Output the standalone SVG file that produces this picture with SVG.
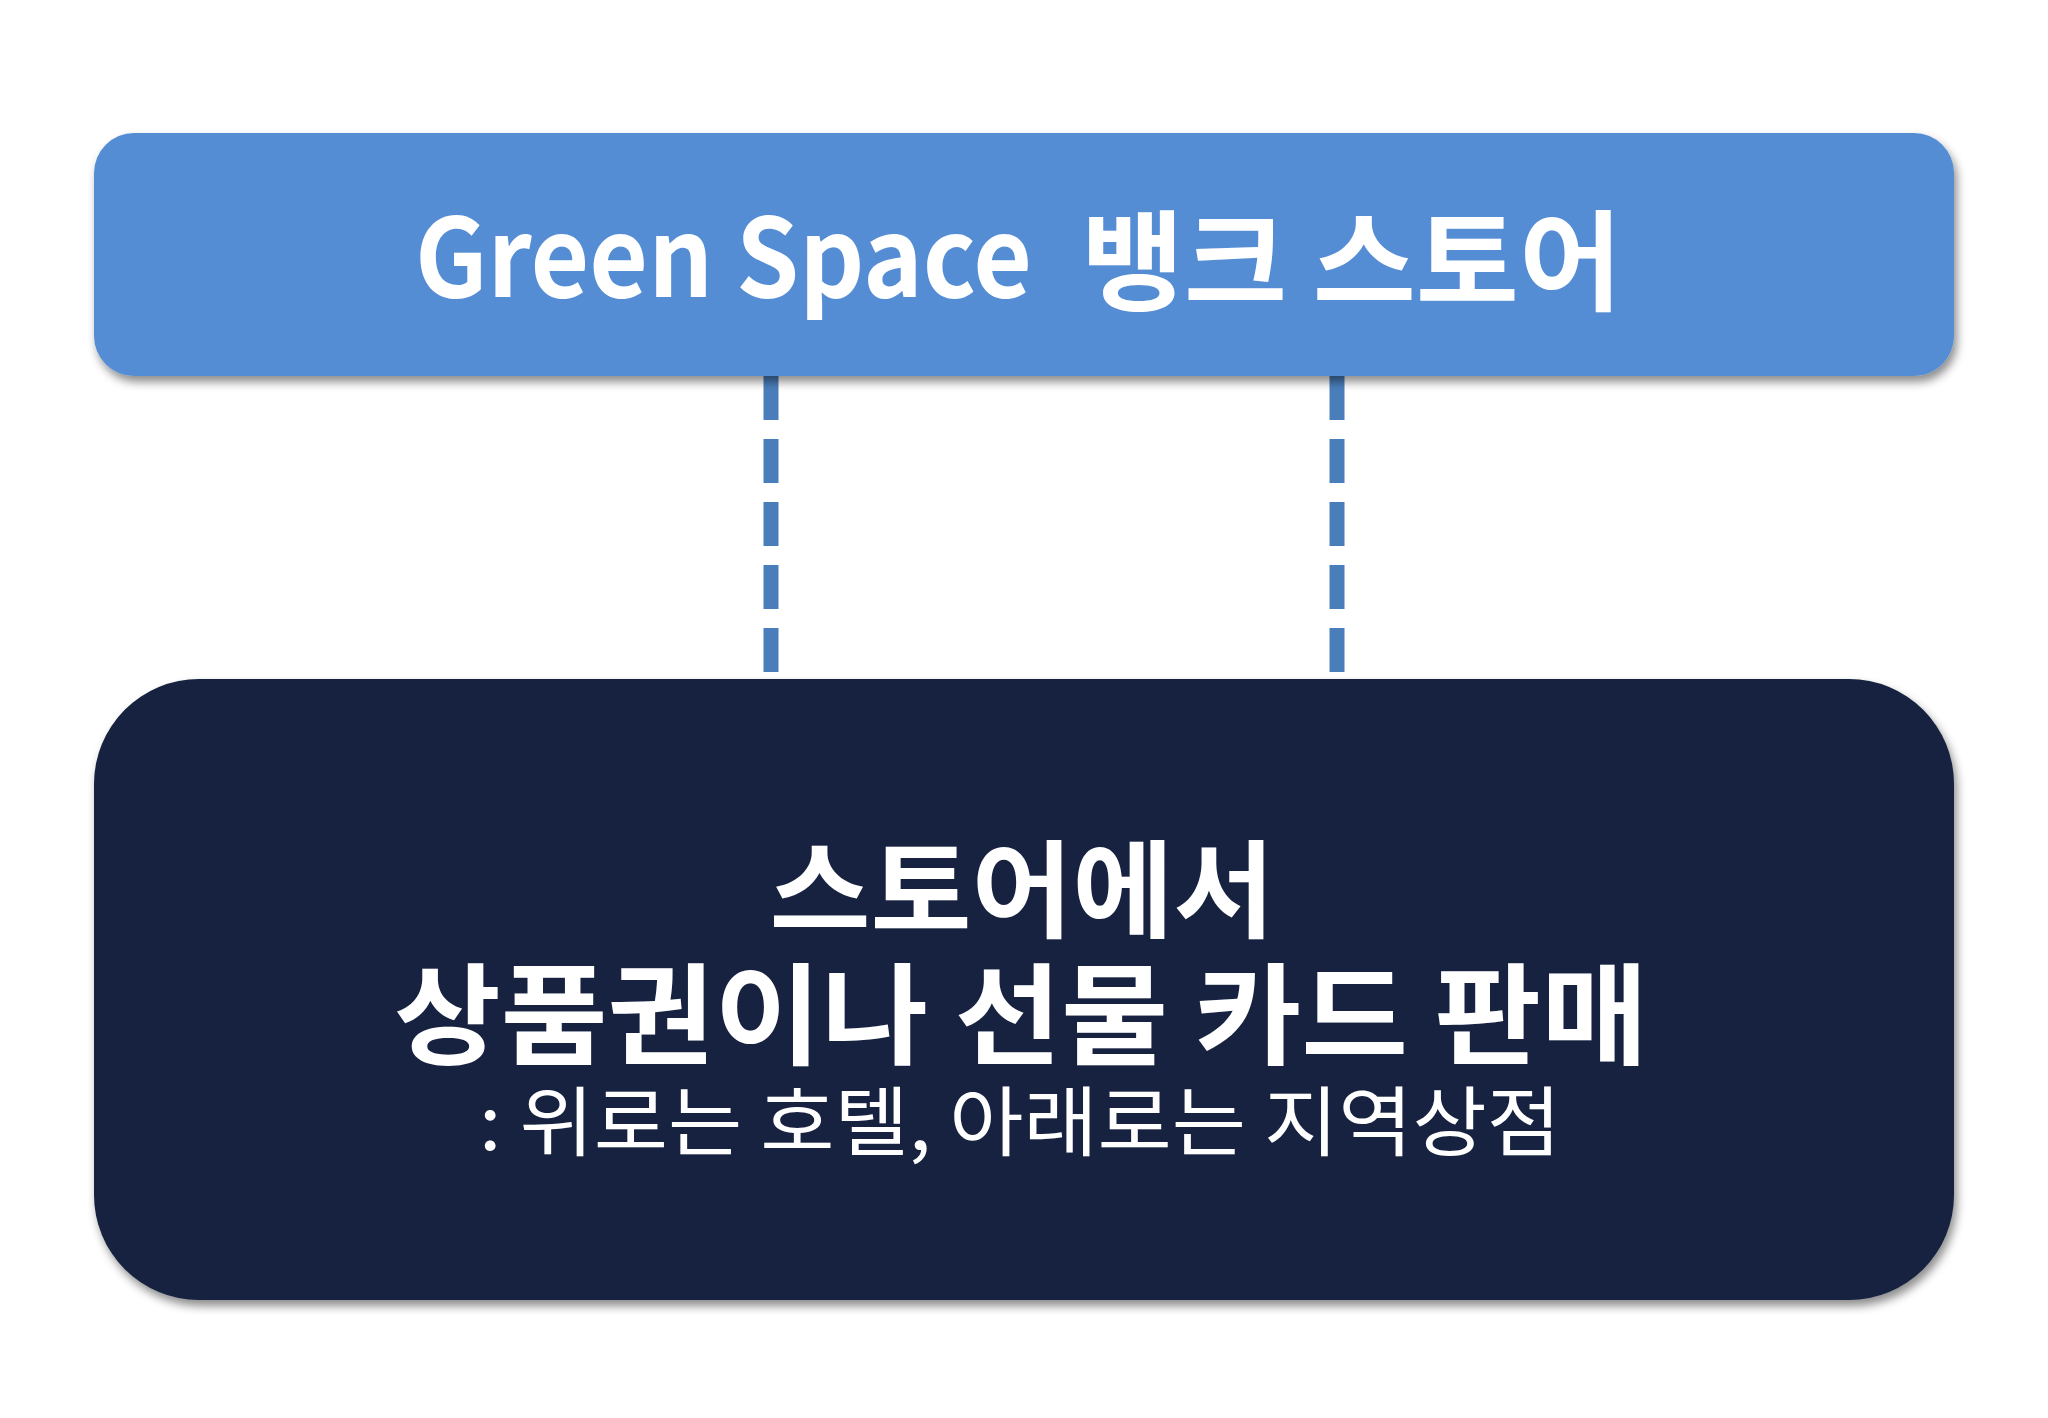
<svg xmlns="http://www.w3.org/2000/svg" width="2048" height="1418" viewBox="0 0 2048 1418">
<defs>
<filter id="shadow" x="-5%" y="-10%" width="110%" height="130%">
<feDropShadow dx="3" dy="6" stdDeviation="5" flood-color="#000" flood-opacity="0.45"/>
</filter>
<style>
.t { font-family: "Noto Sans CJK KR", "Noto Sans", sans-serif; fill: #ffffff; text-anchor: middle; }
.s { text-anchor: start; }
.conn { stroke: #4a7ebb; stroke-width: 15; stroke-dasharray: 44 19; fill: none; }
</style>
</defs>
<rect width="2048" height="1418" fill="#ffffff"/>
<g id="connectors">
<line class="conn" x1="771" y1="376" x2="771" y2="679"/>
<line class="conn" x1="1337" y1="376" x2="1337" y2="679"/>
</g>
<g id="top-node">
<rect x="94" y="133" width="1860" height="243" rx="40" ry="40" fill="#558dd5" filter="url(#shadow)"/>
<text class="t s" x="415" y="297" font-size="109" font-weight="bold" textLength="617" lengthAdjust="spacingAndGlyphs">Green Space</text>
<text class="t s" x="1081" y="302" font-size="109" font-weight="bold" textLength="541" lengthAdjust="spacingAndGlyphs">뱅크 스토어</text>
</g>
<g id="bottom-node">
<rect x="94" y="679" width="1860" height="621" rx="105" ry="105" fill="#13243f" filter="url(#shadow)"/>
<text class="t" x="1022" y="929" font-size="106" font-weight="bold" textLength="505" lengthAdjust="spacingAndGlyphs">스토어에서</text>
<text class="t" x="1021" y="1056" font-size="110" font-weight="bold" textLength="1254" lengthAdjust="spacingAndGlyphs">상품권이나 선물 카드 판매</text>
<text class="t" x="1020" y="1150" font-size="76" textLength="1082" lengthAdjust="spacingAndGlyphs">: 위로는 호텔, 아래로는 지역상점</text>
</g>
</svg>
